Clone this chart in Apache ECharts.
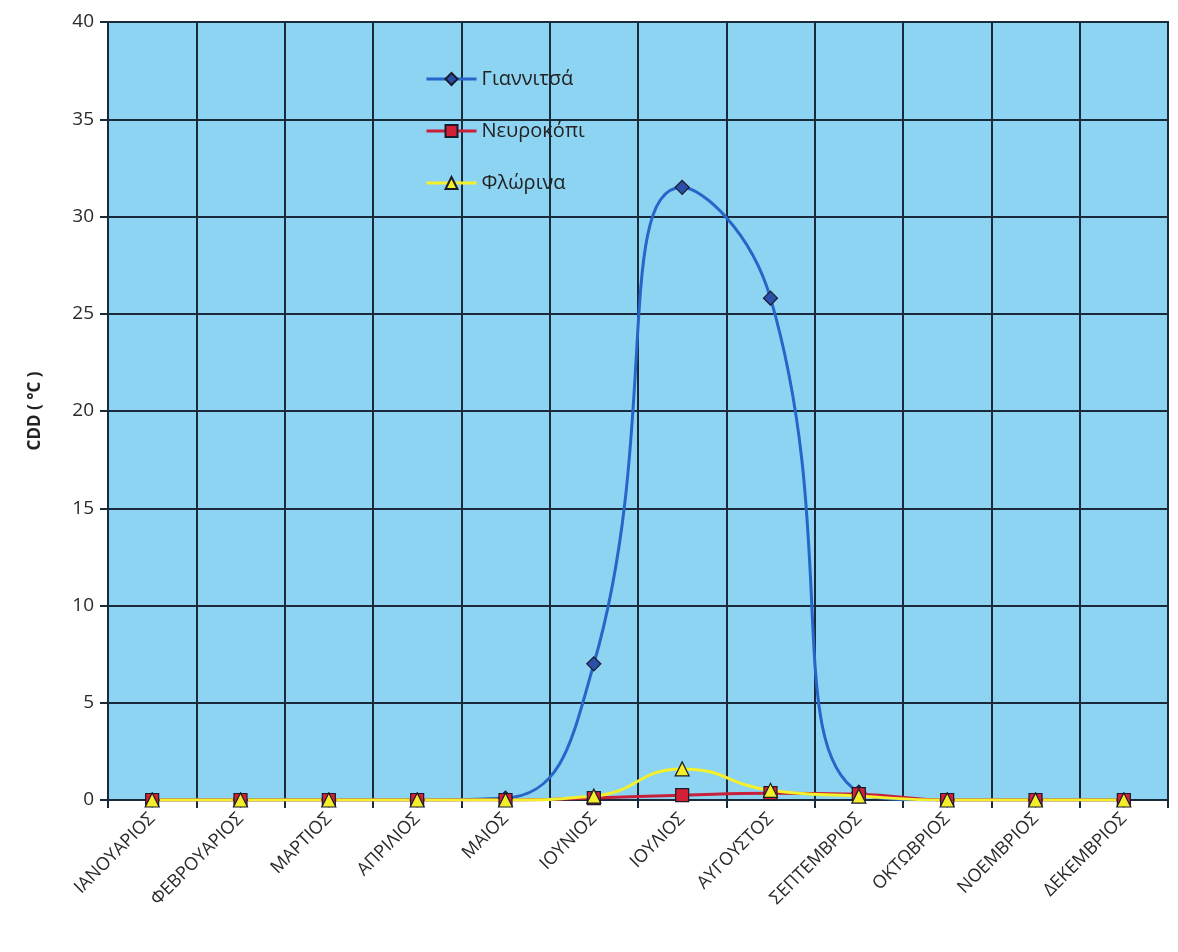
<!DOCTYPE html>
<html><head><meta charset="utf-8">
<script src="https://cdn.jsdelivr.net/npm/echarts@6/dist/echarts.min.js"></script>
<style>html,body{margin:0;padding:0;background:#fff}#c{width:1178px;height:952px}</style>
</head><body><div id="c"></div>
<script>
const months = ['ΙΑΝΟΥΑΡΙΟΣ','ΦΕΒΡΟΥΑΡΙΟΣ','ΜΑΡΤΙΟΣ','ΑΠΡΙΛΙΟΣ','ΜΑΙΟΣ','ΙΟΥΝΙΟΣ','ΙΟΥΛΙΟΣ','ΑΥΓΟΥΣΤΟΣ','ΣΕΠΤΕΜΒΡΙΟΣ','ΟΚΤΩΒΡΙΟΣ','ΝΟΕΜΒΡΙΟΣ','ΔΕΚΕΜΒΡΙΟΣ'];
const giannitsa = [0, 0, 0, 0, 0.1, 7.0, 31.5, 25.8, 0.4, 0, 0, 0];
const neurokopi = [0, 0, 0, 0, 0, 0.1, 0.25, 0.35, 0.3, 0, 0, 0];
const florina   = [0, 0, 0, 0, 0, 0.2, 1.6, 0.5, 0.2, 0, 0, 0];
const yTicks = [0, 5, 10, 15, 20, 25, 30, 35, 40];

const font = '"Open Sans", "Noto Sans", sans-serif';
const chart = echarts.init(document.getElementById('c'));
const mk = (name, data, color, lineColor, symbol, size) => ({
  name, type: 'line', data, smooth: 0.5,
  symbol, symbolSize: size,
  lineStyle: { color: lineColor, width: 3 },
  itemStyle: { color, borderColor: '#1a1a2a', borderWidth: 1.2 },
  emphasis: { disabled: true }
});
chart.setOption({
  animation: false,
  backgroundColor: '#ffffff',
  grid: { left: 108, right: 10, top: 22, bottom: 152, show: true, backgroundColor: '#8dd3f2', borderColor: '#1a2a3a', borderWidth: 2 },
  legend: {
    orient: 'vertical', left: 420, top: 64, itemGap: 32, itemWidth: 50, itemHeight: 15,
    lineStyle: { width: 3 },
    textStyle: { fontFamily: font, fontSize: 20, color: '#222' },
    data: ['Γιαννιτσά', 'Νευροκόπι', 'Φλώρινα']
  },
  xAxis: {
    type: 'category', data: months, boundaryGap: true,
    axisLine: { lineStyle: { color: '#1a2a3a', width: 2 } },
    axisTick: { show: true, length: 8, lineStyle: { color: '#1a2a3a', width: 2 } },
    splitLine: { show: true, lineStyle: { color: '#1a2a3a', width: 2 } },
    axisLabel: { rotate: 45, fontFamily: font, fontSize: 18, color: '#2a2a2a', margin: 16, interval: 0 }
  },
  yAxis: {
    type: 'value', min: yTicks[0], max: yTicks[yTicks.length - 1], interval: 5,
    name: 'CDD ( °C )', nameLocation: 'middle', nameGap: 64, nameRotate: 90,
    nameTextStyle: { fontFamily: font, fontSize: 17, fontWeight: 'bold', color: '#222' },
    axisLine: { show: true, lineStyle: { color: '#1a2a3a', width: 2 } },
    axisTick: { show: true, length: 8, lineStyle: { color: '#1a2a3a', width: 2 } },
    splitLine: { show: true, lineStyle: { color: '#1a2a3a', width: 2 } },
    axisLabel: { fontFamily: font, fontSize: 19, color: '#2a2a2a', margin: 14 }
  },
  series: [
    mk('Γιαννιτσά', giannitsa, '#2b4fa8', '#2566c8', 'diamond', 14),
    mk('Νευροκόπι', neurokopi, '#d42035', '#c8203a', 'rect', 13),
    mk('Φλώρινα', florina, '#f2ee2a', '#f4f02a', 'triangle', 14)
  ]
});
</script></body></html>
